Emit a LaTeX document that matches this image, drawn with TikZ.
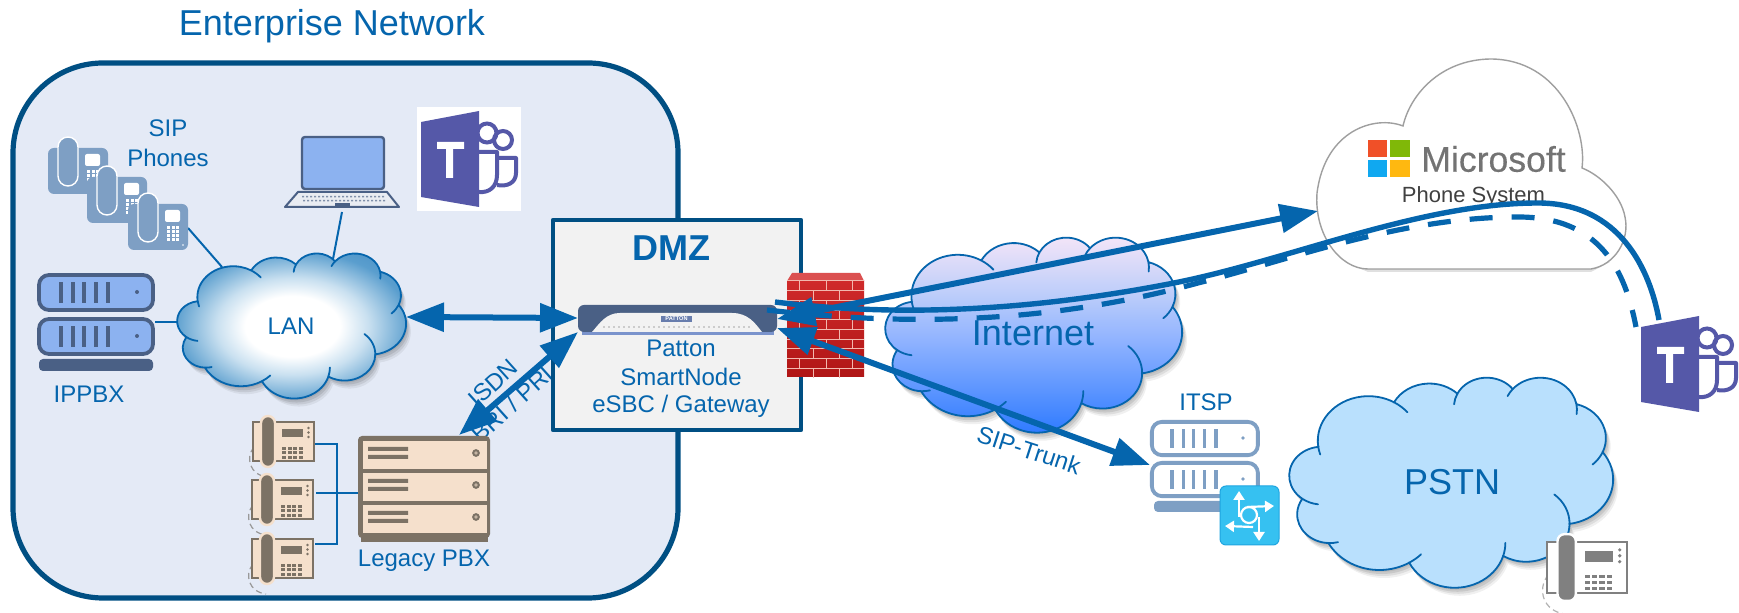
\documentclass[tikz,border=0pt]{standalone}
\usepackage{fontspec}
\setmainfont{Liberation Sans}
\newfontfamily\msfont[FakeBold=0.35]{Liberation Sans}
\usetikzlibrary{arrows.meta}
\definecolor{cBlue}{HTML}{0565AD}
\definecolor{cDark}{HTML}{004F83}
\definecolor{cEnt}{HTML}{E4EAF6}
\definecolor{cDmz}{HTML}{F2F2F2}
\definecolor{cSlate}{HTML}{4A6085}
\definecolor{cRack}{HTML}{8CB2F0}
\definecolor{cSteel}{HTML}{7E9FC4}
\definecolor{cTeams}{HTML}{5558A8}
\definecolor{cBeige}{HTML}{F5E0CC}
\definecolor{cBrown}{HTML}{7C7265}
\definecolor{cPstn}{HTML}{B9E0FD}
\definecolor{lanA}{HTML}{C9E0F0}
\definecolor{lanB}{HTML}{5A9ECE}
\definecolor{lanC}{HTML}{3F88C0}
\definecolor{netA}{HTML}{2A78FF}
\definecolor{netB}{HTML}{90B3FF}
\definecolor{netC}{HTML}{BCCDFA}
\definecolor{netD}{HTML}{F6E6F8}
\definecolor{cStrip}{HTML}{7A93CC}
\definecolor{cRoute}{HTML}{36C1F1}
\definecolor{cRouteB}{HTML}{1FA5E0}
\definecolor{msR}{HTML}{F05028}
\definecolor{msG}{HTML}{80B808}
\definecolor{msB}{HTML}{10A8F0}
\definecolor{msY}{HTML}{FFB810}
\definecolor{brickT}{HTML}{CF2A2A}
\definecolor{brickB}{HTML}{B01616}
\definecolor{brickC}{HTML}{DB5050}
\definecolor{mortar}{HTML}{F2B8AE}
\pgfdeclareradialshading{lanshade}{\pgfpoint{0bp}{0bp}}{color(0bp)=(white);color(10bp)=(white);color(16bp)=(lanA);color(25bp)=(lanB);color(35bp)=(lanC);color(50bp)=(lanC)}
\pgfdeclareverticalshading{netshade}{100bp}{color(0bp)=(netA);color(25bp)=(netA);color(49bp)=(netB);color(60bp)=(netC);color(75bp)=(netD);color(100bp)=(netD)}
% PowerPoint-like cloud in a 432 x 432 box
\newcommand\ca[4]{arc[start angle=#1,delta angle=#2,x radius=#3,y radius=#4]}
\newcommand\cb[6]{arc[start angle=#1,delta angle=-#5,x radius=#3,y radius=#4] arc[start angle=#1-#5,delta angle=#5,x radius=#3,y radius=#4] arc[start angle=#1,delta angle=#2,x radius=#3,y radius=#4] arc[start angle=#1+#2,delta angle=#6,x radius=#3,y radius=#4] arc[start angle=#1+#2+#6,delta angle=-#6,x radius=#3,y radius=#4]}
\newcommand\cloudmain{(39,143.7) \ca{-187.74}{128.10}{67.53}{91.90} \ca{-152.02}{106.57}{53.33}{72.67} \ca{-153.48}{116.16}{43.65}{59.45} \ca{-139.71}{129.49}{48.57}{65.95} \ca{-74.77}{97.98}{53.33}{72.73} \ca{-37.54}{119.40}{67.75}{92.20} \ca{0.46}{121.52}{57.85}{78.67} \ca{16.84}{137.07}{67.52}{92.15} \ca{58.98}{92.72}{77.2}{105.43} \ca{92.5}{120.2}{43.6}{59.18} \ca{126.7}{137.4}{43.45}{59.45} -- cycle}
\newcommand\cloudink{(39,143.7) \cb{-187.74}{128.10}{67.53}{91.90}{10}{20} \cb{-152.02}{106.57}{53.33}{72.67}{0.5}{0.5} \cb{-153.48}{116.16}{43.65}{59.45}{22}{0.5} \cb{-139.71}{129.49}{48.57}{65.95}{15}{18} \cb{-74.77}{97.98}{53.33}{72.73}{0.5}{25} \cb{-37.54}{119.40}{67.75}{92.20}{0.5}{0.5} \cb{0.46}{121.52}{57.85}{78.67}{50}{0.5} \cb{16.84}{137.07}{67.52}{92.15}{17}{0.5} \cb{58.98}{92.72}{77.2}{105.43}{15}{0.5} \cb{92.5}{120.2}{43.6}{59.18}{17}{0.5} \cb{126.7}{137.4}{43.45}{59.45}{30}{0.5}}
% #1 x1 #2 y1 #3 x2 #4 y2 #5 fill/shade options
\newcommand\pptcloud[5]{%
  \pgfmathsetmacro\cx{(#3-#1)/432}\pgfmathsetmacro\cy{(#4-#2)/432}%
  \foreach \dd/\oo in {2/0.07,4/0.09,6/0.08,8/0.06}{%
    \begin{scope}[shift={(#1+\dd*0.6,#2+\dd)},xscale=\cx,yscale=\cy]
      \fill[black,opacity=\oo] \cloudmain;
    \end{scope}}%
  \begin{scope}[shift={(#1,#2)},xscale=\cx,yscale=\cy]
    \path[#5] \cloudmain;
    \draw[cBlue,line width=0.9pt,line join=round] \cloudink;
  \end{scope}}
% Teams icon: origin is the door's upper-left reference
\newcommand\teamsicon[2]{%
  \begin{scope}[shift={(#1,#2)}]
    \draw[cTeams,line width=2pt] (66,22) circle (9.5);
    \draw[cTeams,line width=2pt] (82,29) circle (9);
    \draw[cTeams,line width=2pt,line join=round] (58,41) -- (76,41) -- (76,64) .. controls (76,76) and (68,82) .. (58,81);
    \draw[cTeams,line width=2pt,line join=round] (76,47) -- (95,47) -- (95,62) .. controls (95,72) and (86,76) .. (76,74);
    \fill[cTeams] (0,11) -- (58,0) -- (58,96) -- (0,86) -- cycle;
    \fill[white] (16,31) rectangle (43,38) (25,38) rectangle (32,67);
  \end{scope}}
% Desk phone: #1 x #2 y #3 scale #4 body #5 stroke #6 cord
\newcommand\deskphone[6]{%
  \begin{scope}[shift={(#1,#2)},scale=#3]
    \draw[#6,line width=0.6pt,densely dashed] (1,25) .. controls (-8,36) and (-3,53) .. (14,55);
    \draw[#5,fill=#4,line width=1pt] (0,0) rectangle (61,39);
    \draw[#4,fill=#5,line width=1.2pt,rounded corners=3.5pt] (8,-6) rectangle (22,45);
    \fill[#5] (29,7) rectangle (50,15);
    \foreach \kx in {29,34.5,40,45.5}{\foreach \ky in {25,29.5,34}{\fill[#5] (\kx,\ky) rectangle +(4,2.8);}}
    \foreach \by in {6,10.5,15}{\fill[#5] (55.5,\by) circle (1.4);}
  \end{scope}}
% SIP phone
\newcommand\sipphone[2]{%
  \begin{scope}[shift={(#1,#2)}]
    \fill[cSteel,rounded corners=3pt] (0,0) rectangle (60,46);
    \draw[white,fill=cSteel,line width=0.7pt,rounded corners=5pt] (10,-11) rectangle (30,38);
    \fill[white,rounded corners=1pt] (37,6) rectangle (52,18);
    \foreach \kx in {39,43.5,48}{\foreach \ky in {22,26,30,34}{\fill[white] (\kx,\ky) rectangle +(3,3);}}
    \fill[white] (55,41) circle (0.8);
  \end{scope}}
% Rack unit: #1 x #2 y #3 xscale #4 yscale #5 fill #6 stroke
\newcommand\rackunit[6]{%
  \begin{scope}[shift={(#1,#2)},xscale=#3,yscale=#4]
    \draw[#6,fill=#5,line width=1.9pt,rounded corners=5pt] (2,2) rectangle (116,37);
    \foreach \bx in {22,34,45,57,69}{\fill[#6] (\bx,9) rectangle +(3.6,21);}
    \fill[#6] (100,19) circle (2);
  \end{scope}}
% Legacy slot
\newcommand\pbxslot[2]{%
  \fill[cBeige] (#1,#2) rectangle +(124,28);
  \fill[cBrown] (#1+5,#2+6) rectangle +(40,4) (#1+5,#2+14) rectangle +(40,4);
  \draw[cBrown,fill=cBeige!60!cBrown,line width=1pt] (#1+113,#2+12) circle (2.8);}
\tikzset{
  lbl/.style={text=cBlue,font=\fontsize{12}{14.5}\selectfont,align=center,inner sep=0pt},
  biglbl/.style={text=cBlue,font=\fontsize{18}{21}\selectfont,inner sep=0pt},
  thinlink/.style={draw=cBlue,line width=1pt},
  bigarrow/.style={draw=cBlue,line width=3pt,arrows={Triangle[length=19pt,width=14pt]-Triangle[length=19pt,width=14pt]}},
  routearrow/.style={draw=white,line width=1.1pt,arrows={-Triangle[length=4.5pt,width=5.5pt]}}
}
\begin{document}
\begin{tikzpicture}[x=0.5pt,y=-0.5pt]
\useasboundingbox (0,0) rectangle (1739,613);
\fill[white] (0,0) rectangle (1739,613);
% named anchor points
\coordinate (lanE) at (406,317);
\coordinate (lanW) at (178,322);
\coordinate (lanNW) at (222,267);
\coordinate (lanN) at (333,259);
\coordinate (devW) at (578,318);
\coordinate (devSW) at (578,332);
\coordinate (pbxN) at (459,435);
\coordinate (devE1) at (777,319);
\coordinate (msW) at (1318,211);
\coordinate (devE2) at (777,328);
\coordinate (itspW) at (1150,465);
\coordinate (solidS) at (775,302);
\coordinate (solidM) at (1174,283);
\coordinate (solidT) at (1538,203);
\coordinate (solidE) at (1659,320);
\coordinate (dashS) at (767,310);
\coordinate (dashM) at (1198,283);
\coordinate (dashT) at (1518,217);
\coordinate (dashE) at (1636,327);
\coordinate (rackE) at (155,322);
\coordinate (sipE) at (188,228);
\coordinate (lapS) at (342,212);
\coordinate (ph1E) at (315,444);
\coordinate (ph2E) at (316,493);
\coordinate (ph3E) at (315,544);
\coordinate (busT) at (337,444);
\coordinate (busB) at (337,544);
\coordinate (pbxW) at (359,493);
% Enterprise
\draw[cDark,fill=cEnt,line width=2.6pt,rounded corners=45pt] (13,63) rectangle (678,598);
\node[biglbl] (entlabel) at (332,26) {Enterprise Network};
% thin links below icons
\draw[thinlink] (sipE) -- (lanNW);
\draw[thinlink] (lapS) -- (lanN);
\draw[thinlink] (rackE) -- (lanW);
% SIP phones
\sipphone{48}{148}\sipphone{87}{177}\sipphone{128}{204}
\node[lbl] (siplabel) at (168,143) {SIP\\[0.5pt]Phones};
% Laptop
\draw[cSlate,fill=cEnt!70!cSlate!30,line width=1pt,line join=round] (285,207) -- (298,192) -- (387,192) -- (399,207) -- cycle;
\foreach \lx in {302,306,...,382}{\fill[cSlate!70] (\lx,196) rectangle +(2,1.5) (\lx+1,200) rectangle +(2,1.5);}
\fill[cSlate] (335,203) rectangle (350,206);
\draw[cSlate,fill=cRack,line width=1.2pt,rounded corners=1.5pt] (302,137) rectangle (384,189);
% Teams left
\fill[white] (417,107) rectangle (521,211);
\teamsicon{421}{111}
% IPPBX
\rackunit{37}{273}{1}{1}{cRack}{cSlate}
\rackunit{37}{317}{1}{1}{cRack}{cSlate}
\fill[cSlate,rounded corners=2pt] (39,359) rectangle (153,371);
\node[lbl] (ippbx) at (89,394) {IPPBX};
% LAN
\pptcloud{177}{253}{406}{398}{shading=lanshade}
\node[lbl] (lanlabel) at (291,326) {LAN};
% ISDN labels
\node[lbl,rotate=42] (isdn) at (493,383) {ISDN};
\node[lbl,rotate=42] (bri) at (512,404) {BRI / PRI};
% Legacy phones and PBX
\draw[thinlink] (ph1E) -- (busT) -- (busB) -- (ph3E);
\draw[thinlink] (ph2E) -- (pbxW);
\deskphone{253}{422}{1}{cBeige}{cBrown}{gray!80}
\deskphone{252}{480}{1}{cBeige}{cBrown}{gray!80}
\deskphone{252}{539}{1}{cBeige}{cBrown}{gray!80}
\fill[cBrown] (361,530) rectangle (488,542);
\fill[cBrown,rounded corners=2pt] (358,436) rectangle (490,538);
\pbxslot{363}{441}\pbxslot{363}{473}\pbxslot{363}{505}
\node[lbl] (legacy) at (424,561) {Legacy PBX};
% DMZ
\draw[cDark,fill=cDmz,line width=2.3pt,line join=round] (553,220) rectangle (801,430);
\node[text=cBlue,font=\fontsize{18}{21}\selectfont\bfseries,inner sep=0pt] (dmzlabel) at (671,248) {DMZ};
% SmartNode
\fill[cStrip] (582,330) rectangle (774,335.5);
\fill[cSlate,rounded corners=3pt] (578,305) rectangle (777,332);
\fill[cDmz] (592,332) .. controls (600,323) and (606,313) .. (620,313) -- (732,313) .. controls (748,313) and (755,323) .. (762,332) -- cycle;
\foreach \dx in {604,609,...,751}{\fill[gray!70] (\dx,327) circle (0.8);}
\fill[cStrip!85!black] (661,316) rectangle (692,322);
\node[text=white,font=\fontsize{2.8}{3}\bfseries\selectfont,inner sep=0pt] (pat) at (676.5,319) {PATTON};
\node[lbl] (patton) at (681,348) {Patton};
\node[lbl] (smartnode) at (681,377) {SmartNode};
\node[lbl] (esbc) at (681,406) {eSBC / Gateway};
% Firewall
\shade[top color=brickT,bottom color=brickB] (787,281) rectangle (864,377);
\fill[brickC] (787,281) -- (792,273) -- (860,273) -- (864,281) -- cycle;
\foreach \ri in {0,...,9}{
  \pgfmathsetmacro\ry{281+\ri*9.7}
  \draw[mortar,line width=0.5pt] (787,\ry) -- (864,\ry);
  \pgfmathsetmacro\ryy{\ry+9.7}
  \ifodd\ri
    \foreach \vx in {813,839}{\draw[mortar,line width=0.5pt] (\vx,\ry) -- (\vx,\ryy);}
  \else
    \foreach \vx in {799,826,852}{\draw[mortar,line width=0.5pt] (\vx,\ry) -- (\vx,\ryy);}
  \fi}
% Microsoft cloud
\fill[black,opacity=0.12] (1368,272) -- (1591,272) -- (1610,262) -- (1345,262) -- cycle;
\draw[gray!75,fill=white,line width=0.7pt] (1368,269) -- (1591,269) .. controls (1615,265) and (1630,240) .. (1625,217) .. controls (1621,195) and (1600,175) .. (1582,168) .. controls (1587,130) and (1560,59) .. (1490,59) .. controls (1440,60) and (1410,95) .. (1403,126) .. controls (1375,115) and (1325,130) .. (1317,193) .. controls (1314,235) and (1340,269) .. (1368,269) -- cycle;
\fill[msR] (1368,140) rectangle (1387,157);
\fill[msG] (1390,140) rectangle (1410,157);
\fill[msB] (1368,160) rectangle (1387,177);
\fill[msY] (1390,160) rectangle (1410,177);
\node[text=black!55,font=\msfont\fontsize{17.8}{20}\selectfont,inner sep=0pt] (mslabel) at (1493.5,159) {Microsoft};
\node[text=black!75,font=\fontsize{11}{13}\selectfont,inner sep=0pt] (phonesys) at (1473.5,197) {Phone System};
% Internet
\pptcloud{885}{237}{1182}{432}{shading=netshade}
\node[biglbl] (internet) at (1033,333) {Internet};
% ITSP
\rackunit{1150}{420}{0.93}{0.95}{white}{cSteel}
\rackunit{1150}{461}{0.93}{0.95}{white}{cSteel}
\fill[cSteel,rounded corners=2pt] (1154,501) rectangle (1233,512);
\node[lbl] (itsp) at (1206,402) {ITSP};
\draw[cRouteB,fill=cRoute,line width=0.5pt,rounded corners=3pt] (1220,486) rectangle (1279,545);
\coordinate (rc1) at (1239,517);\coordinate (rt1) at (1239,491);
\coordinate (rc2) at (1247,507);\coordinate (rt2) at (1274,506);
\coordinate (rc3) at (1253,527);\coordinate (rt3) at (1225,526);
\coordinate (rc4) at (1259,517);\coordinate (rt4) at (1259,541);
\draw[white,line width=1.1pt] (1249,515) circle (8);
\draw[routearrow] (rc1) -- (rt1);
\draw[routearrow] (rc2) -- (rt2);
\draw[routearrow] (rc3) -- (rt3);
\draw[routearrow] (rc4) -- (rt4);
% PSTN
\pptcloud{1289}{377}{1613}{587}{fill=cPstn}
\node[biglbl] (pstn) at (1452,482) {PSTN};
\deskphone{1547}{542}{1.31}{white}{gray}{gray!60}
% Teams right
\teamsicon{1641}{316}
% SIP-Trunk label
\node[lbl,rotate=-18] (trunk) at (1029,450) {SIP-Trunk};
% Arrows
\draw[bigarrow] (lanE) -- (devW);
\draw[bigarrow] (devSW) -- (pbxN);
\draw[bigarrow] (devE1) -- (msW);
\draw[bigarrow] (devE2) -- (itspW);
\draw[cBlue,line width=2.7pt] (solidS) .. controls (880,315) and (1010,315) .. (solidM) .. controls (1290,260) and (1420,203) .. (solidT) .. controls (1620,203) and (1650,270) .. (solidE);
\draw[cBlue,line width=2.6pt,dash pattern=on 11.5pt off 9.5pt] (dashS) .. controls (880,323) and (1030,329) .. (dashM) .. controls (1290,260) and (1400,217) .. (dashT) .. controls (1600,217) and (1625,270) .. (dashE);
\end{tikzpicture}
\end{document}
